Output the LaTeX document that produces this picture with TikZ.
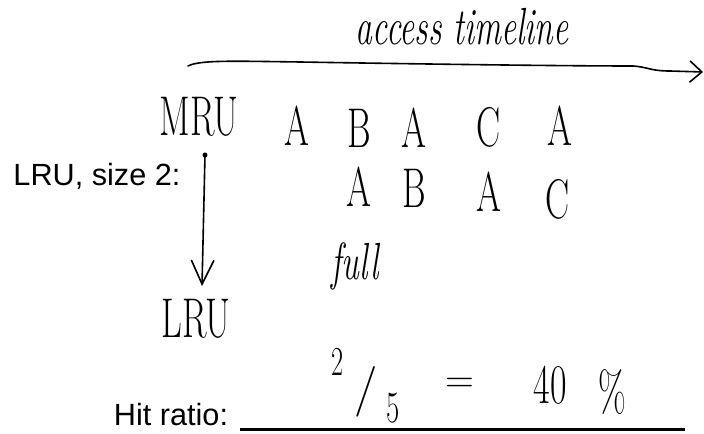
\documentclass[tikz,border=0pt]{standalone}
\usepackage{fontspec}
\newfontfamily\printfont{Liberation Sans}
\usetikzlibrary{arrows.meta}

\newcommand{\hw}[1]{\scalebox{0.9}[1.4]{#1}}

\tikzset{every picture/.style={line width=0.75pt}}
\tikzset{
  hand/.style={font=\fontsize{30}{32}\selectfont, inner sep=0pt},
  handit/.style={font=\fontsize{28}{30}\selectfont\itshape, inner sep=0pt},
  printed/.style={font=\printfont\fontsize{23}{26}\selectfont, inner sep=0pt},
  pen/.style={line width=1.2pt, line cap=round},
  barb/.style={-{Straight Barb[length=9pt,width=16pt,line width=1.2pt]}}
}

\begin{document}
\begin{tikzpicture}[x=0.75pt,y=0.75pt,yscale=-1,xscale=1]
\useasboundingbox (0,0) rectangle (704,434);

% Text Node
\node [handit] (title) at (462,27) {\hw{access timeline}};
%Curve Lines
\coordinate (tlstart) at (188,66);
\coordinate (tlend) at (703,72);
\draw [pen, barb] (tlstart) .. controls (200,60) and (230,61) .. (300,62) .. controls (420,64) and (560,66) .. (633,66) .. controls (648,67) and (650,71) .. (670,71) -- (tlend) ;

% Text Node
\node [hand] (mru) at (199,117) {\hw{MRU}};
% access row (MRU slot)
\node [hand] (m1) at (297,126) {\hw{A}};
\node [hand] (m2) at (359,128) {\hw{B}};
\node [hand] (m3) at (414,128) {\hw{A}};
\node [hand] (m4) at (489,127) {\hw{C}};
\node [hand] (m5) at (560,126) {\hw{A}};
% LRU slot
\node [hand] (l2) at (359,187) {\hw{A}};
\node [hand] (l3) at (414,188) {\hw{B}};
\node [hand] (l4) at (489,192) {\hw{A}};
\node [hand] (l5) at (558,199) {\hw{C}};

% Text Node
\node [printed] (label) at (97,176) {LRU, size 2:};
%Straight Lines
\coordinate (top) at (205,155);
\coordinate (bot) at (202,286);
\fill (top) circle (2.5);
\draw [pen, barb, -{Straight Barb[length=18pt,width=17pt,line width=1.2pt]}] (top) -- (bot) ;

% Text Node
\node [handit] (full) at (355,266) {\hw{full}};
\node [hand] (lru) at (196,319) {\hw{LRU}};

% Text Node
\node [printed] (hit) at (171,415) {Hit ratio:};
\coordinate (ulstart) at (240,430);
\coordinate (ulend) at (685,430);
\draw [line width=2.25pt] (ulstart) -- (ulend) ;

% Text Node
\node [hand, font=\fontsize{22}{24}\selectfont] (num) at (338,362) {\hw{2}};
\node [hand, font=\fontsize{38}{40}\selectfont] (slash) at (366,392) {/};
\node [hand, font=\fontsize{24}{26}\selectfont] (den) at (393,408) {\hw{5}};
\node [hand] (eq) at (460,385) {=};
\node [hand] (forty) at (550,385) {\hw{40}};
\node [hand] (pct) at (612,392) {\hw{\%}};

\end{tikzpicture}
\end{document}
